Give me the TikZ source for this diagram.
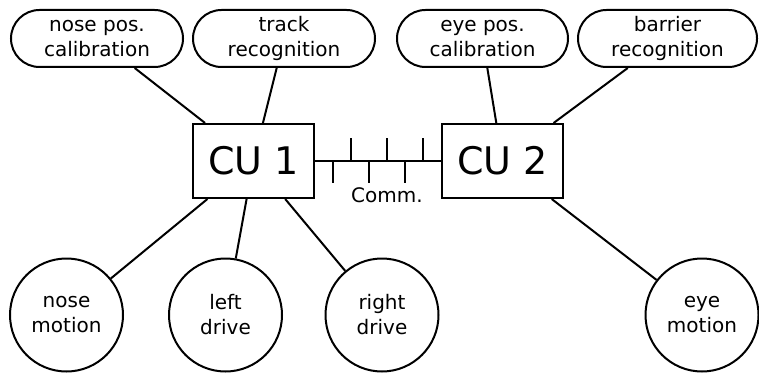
\documentclass[tikz,border=0pt]{standalone}
\usepackage{fontspec}
\setmainfont{DejaVu Sans}
\begin{document}
\begin{tikzpicture}[x=1pt,y=-1pt,
  every node/.style={font=\fontsize{20}{25}\selectfont, align=center, inner sep=0pt},
  pill/.style={draw, line width=2pt, rounded corners=28.5pt, minimum height=57pt},
  cu/.style={draw, line width=2pt, minimum width=121pt, minimum height=74pt, font=\fontsize{38}{44}\selectfont},
  act/.style={draw, circle, line width=2pt, minimum size=113pt},
  link/.style={line width=2pt}]
\useasboundingbox (0,0) rectangle (759,374);
% pills
\node[pill, minimum width=172pt] (npc) at (97,38.5) {nose pos.\\calibration};
\node[pill, minimum width=182pt] (tr) at (284,38.5) {track\\recognition};
\node[pill, minimum width=171pt] (epc) at (482.5,38.5) {eye pos.\\calibration};
\node[pill, minimum width=179pt] (br) at (667.5,38.5) {barrier\\recognition};
% control units
\node[cu] (cu1) at (253.5,161) {CU 1};
\node[cu] (cu2) at (502.5,161) {CU 2};
% actuators
\node[act] (nm) at (66.5,315) {nose\\motion};
\node[act] (ld) at (225.5,315) {left\\drive};
\node[act] (rd) at (382,315) {right\\drive};
\node[act] (em) at (702,315) {eye\\motion};
% links
\draw[link] (npc) -- (cu1);
\draw[link] (tr) -- (cu1);
\draw[link] (epc) -- (cu2);
\draw[link] (br) -- (cu2);
\draw[link] (cu1) -- (nm);
\draw[link] (cu1) -- (ld);
\draw[link] (cu1) -- (rd);
\draw[link] (cu2) -- (em);
% bus
\draw[link] (cu1.east) -- (cu2.west);
\coordinate (u1) at (351,161);
\coordinate (u2) at (387,161);
\coordinate (u3) at (423,161);
\coordinate (d1) at (333,161);
\coordinate (d2) at (369,161);
\coordinate (d3) at (405,161);
\foreach \c in {u1,u2,u3} \draw[link] (\c) -- ++(0,-23);
\foreach \c in {d1,d2,d3} \draw[link] (\c) -- ++(0,22);
\node[anchor=base] (comm) at (387,202) {Comm.};
\end{tikzpicture}
\end{document}
